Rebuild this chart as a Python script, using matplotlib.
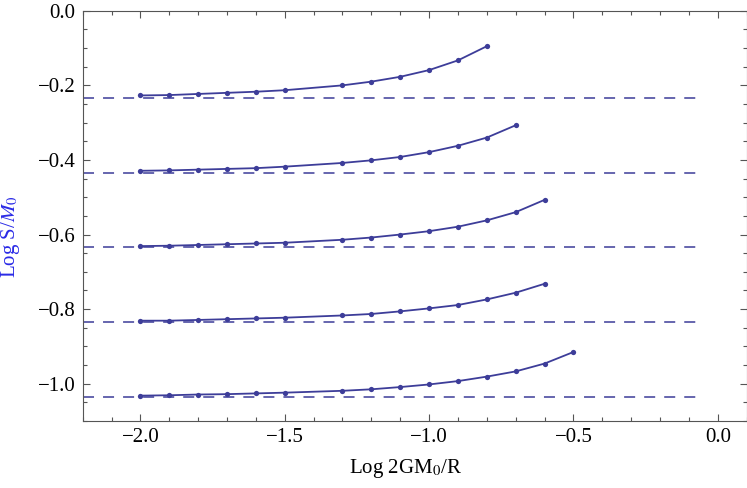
import matplotlib
matplotlib.use('Agg')
import matplotlib.pyplot as plt
from matplotlib.ticker import MultipleLocator, FuncFormatter


# x positions (Log 2GM0/R), -1.4 is skipped in the data
x_pts = [-2.0, -1.9, -1.8, -1.7, -1.6, -1.5, -1.3, -1.2, -1.1, -1.0, -0.9, -0.8, -0.7, -0.6, -0.5]

# curves (Log S/M0), each one runs until its last value
curve_1 = [-0.227, -0.226, -0.223, -0.220, -0.217, -0.213, -0.200, -0.190, -0.177, -0.159, -0.133, -0.095]
curve_2 = [-0.429, -0.428, -0.426, -0.424, -0.422, -0.418, -0.408, -0.401, -0.392, -0.379, -0.362, -0.340, -0.307]
curve_3 = [-0.631, -0.630, -0.628, -0.626, -0.624, -0.622, -0.614, -0.608, -0.600, -0.591, -0.579, -0.562, -0.540, -0.507]
curve_4 = [-0.831, -0.831, -0.829, -0.827, -0.825, -0.823, -0.817, -0.813, -0.806, -0.798, -0.789, -0.774, -0.756, -0.732]
curve_5 = [-1.032, -1.031, -1.029, -1.028, -1.026, -1.024, -1.019, -1.015, -1.009, -1.002, -0.993, -0.981, -0.967, -0.946, -0.915]
curves = [curve_1, curve_2, curve_3, curve_4, curve_5]

# horizontal asymptotes
asymptotes = [-0.234, -0.434, -0.634, -0.835, -1.035]

line_color = '#3d3d99'
axis_color = '#555555'

plt.rcParams['font.family'] = ['Liberation Serif', 'DejaVu Serif']
plt.rcParams['mathtext.fontset'] = 'stix'
plt.rcParams['font.size'] = 15


def fmt(v, pos):
    # real minus sign like the original
    s = '%.1f' % abs(v)
    return ('\u2212' + s) if v < -1e-9 else s


fig = plt.figure(figsize=(7.47, 4.88), dpi=100)
ax = fig.add_axes([0.1107, 0.1373, 0.8888, 0.8406])

for y in asymptotes:
    ax.hlines(y, -2.2, -0.05, colors=line_color, linestyles=(0, (6.1, 5)), linewidth=1.3, alpha=0.85)

for ys in curves:
    ax.plot(x_pts[:len(ys)], ys, color=line_color, linewidth=1.3,
            marker='o', markersize=3.8, markeredgewidth=0)

ax.set_xlim(-2.2, 0.1)
ax.set_ylim(-1.1, 0.0)

ax.xaxis.set_major_locator(MultipleLocator(0.5))
ax.xaxis.set_minor_locator(MultipleLocator(0.1))
ax.yaxis.set_major_locator(MultipleLocator(0.2))
ax.yaxis.set_minor_locator(MultipleLocator(0.05))
ax.xaxis.set_major_formatter(FuncFormatter(fmt))
ax.yaxis.set_major_formatter(FuncFormatter(fmt))

ax.tick_params(which='both', direction='in', top=True, right=True, color=axis_color, width=0.8)
ax.tick_params(which='major', length=5, labelsize=15, pad=5)
ax.tick_params(which='minor', length=3)
for s in ax.spines.values():
    s.set_color(axis_color)
    s.set_linewidth(0.8)

ax.set_xlabel(r'Log 2GM$_0$/R', fontsize=15)
ax.xaxis.set_label_coords(0.487, -0.088)
ax.set_ylabel(r'Log S/$M_0$', fontsize=15, color='#2a2ae6')
ax.yaxis.set_label_coords(-0.091, 0.449)

fig.savefig('out.png', dpi=100)
